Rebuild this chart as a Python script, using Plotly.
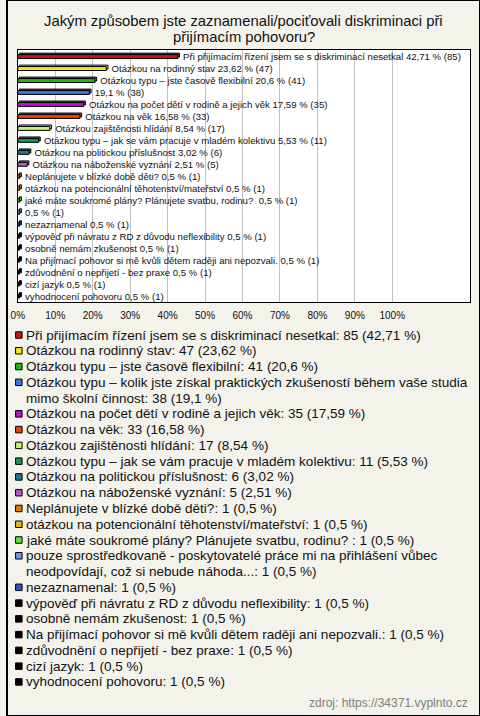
import textwrap
import plotly.graph_objects as go

# ---------------- data ----------------
title_lines = ["Jakým způsobem jste zaznamenali/pociťovali diskriminaci při",
               "přijímacím pohovoru?"]

categories = [
    "Při přijímacím řízení jsem se s diskriminací nesetkal",
    "Otázkou na rodinný stav",
    "Otázkou typu – jste časově flexibilní",
    "Otázkou typu – kolik jste získal praktických zkušeností během vaše studia mimo školní činnost",
    "Otázkou na počet dětí v rodině a jejich věk",
    "Otázkou na věk",
    "Otázkou zajištěnosti hlídání",
    "Otázkou typu – jak se vám pracuje v mladém kolektivu",
    "Otázkou na politickou příslušnost",
    "Otázkou na náboženské vyznání",
    "Neplánujete v blízké době děti?",
    "otázkou na potencionální těhotenství/mateřství",
    "jaké máte soukromé plány? Plánujete svatbu, rodinu? ",
    "pouze sprostředkovaně - poskytovatelé práce mi na přihlášení vůbec neodpovídají, což si nebude náhoda...",
    "nezaznamenal",
    "výpověď při návratu z RD z důvodu neflexibility",
    "osobně nemám zkušenost",
    "Na přijímací pohovor si mě kvůli dětem raději ani nepozvali.",
    "zdůvodnění o nepřijetí - bez praxe",
    "cizí jazyk",
    "vyhodnocení pohovoru",
]

# names shown next to the bars (long ones omitted in the original)
bar_names = [
    "Při přijímacím řízení jsem se s diskriminací nesetkal",
    "Otázkou na rodinný stav",
    "Otázkou typu – jste časově flexibilní",
    "",
    "Otázkou na počet dětí v rodině a jejich věk",
    "Otázkou na věk",
    "Otázkou zajištěnosti hlídání",
    "Otázkou typu – jak se vám pracuje v mladém kolektivu",
    "Otázkou na politickou příslušnost",
    "Otázkou na náboženské vyznání",
    "Neplánujete v blízké době děti?",
    "otázkou na potencionální těhotenství/mateřství",
    "jaké máte soukromé plány? Plánujete svatbu, rodinu? ",
    "",
    "nezaznamenal",
    "výpověď při návratu z RD z důvodu neflexibility",
    "osobně nemám zkušenost",
    "Na přijímací pohovor si mě kvůli dětem raději ani nepozvali.",
    "zdůvodnění o nepřijetí - bez praxe",
    "cizí jazyk",
    "vyhodnocení pohovoru",
]

counts = [85, 47, 41, 38, 35, 33, 17, 11, 6, 5, 1, 1, 1, 1, 1, 1, 1, 1, 1, 1, 1]
percents = [42.71, 23.62, 20.6, 19.1, 17.59, 16.58, 8.54, 5.53, 3.02, 2.51,
            0.5, 0.5, 0.5, 0.5, 0.5, 0.5, 0.5, 0.5, 0.5, 0.5, 0.5]

colors = ["#C0170C", "#F6E614", "#1EB41E", "#4173E6", "#B414C8", "#E6410F",
          "#C8F06E", "#14965F", "#1E7896", "#B45AC3", "#E6780F", "#E6B914",
          "#5AE63C", "#6E96E6", "#2D55C8", "#000000", "#000000", "#000000",
          "#000000", "#000000", "#000000"]

tick_values = [0, 10, 20, 30, 40, 50, 60, 70, 80, 90, 100]
tick_labels = ["0%", "10%", "20%", "30%", "40%", "50%", "60%", "70%", "80%", "90%", "100%"]

source_text = "zdroj: https://34371.vyplnto.cz"

# ---------------- layout constants ----------------
W, H = 480, 716
BG = "#F3F2EB"
FONT = "Liberation Sans, Arial, sans-serif"

def fy(px):
    return 1 - px / H

def fmt(p):
    return f"{p:g}".replace(".", ",")

idx = list(range(len(categories)))
bar_text = ["\u00a0\u00a0" + (f"{n} " if n else "") + f"{fmt(p)} % ({c})"
            for n, p, c in zip(bar_names, percents, counts)]

BAR_W = 0.33
DEPTH_Y = 0.12

fig = go.Figure()

# 3D-ish back face
fig.add_trace(go.Bar(
    y=idx, x=percents, base=0.45, orientation="h",
    width=BAR_W, offset=-BAR_W / 2 - DEPTH_Y,
    marker=dict(color=colors, line=dict(color="#000000", width=1)),
    hoverinfo="skip", showlegend=False,
))
# front face
fig.add_trace(go.Bar(
    y=idx, x=percents, orientation="h",
    width=BAR_W, offset=-BAR_W / 2,
    marker=dict(color=colors, line=dict(color="#000000", width=1)),
    text=bar_text, textposition="outside", cliponaxis=False,
    constraintext="none",
    textfont=dict(family=FONT, size=9.6, color="#111111"),
    hoverinfo="skip", showlegend=False,
))

# ---------------- custom legend below ----------------
LEG_TOP_PX = 335.0
LEG_STEP = 15.77
line_idx = []
leg_lines = []
cur = 0
for name, p, c in zip(categories, percents, counts):
    full = f"{name}: {c} ({fmt(p)} %)"
    lines = textwrap.wrap(full, width=75)
    line_idx.append(cur)
    leg_lines.append(lines)
    cur += len(lines)

fig.add_trace(go.Scatter(
    x=[12] * len(categories), y=line_idx, mode="markers",
    marker=dict(symbol="square", size=6.5, color=colors, line=dict(color="#000000", width=1)),
    xaxis="x2", yaxis="y2", hoverinfo="skip", showlegend=False, cliponaxis=False,
))

annotations = []
for li, lines in zip(line_idx, leg_lines):
    for k, ln in enumerate(lines):
        annotations.append(dict(
            x=19.5 / W, y=li + k, xref="paper", yref="y2", text=ln, showarrow=False,
            xanchor="left", yanchor="middle", borderpad=0, borderwidth=0,
            font=dict(family=FONT, size=13.5, color="#111111"),
        ))

# title lines
for ln, ypx in zip(title_lines, [20.5, 37.0]):
    annotations.append(dict(
        x=0.5, y=fy(ypx), xref="paper", yref="paper", text=ln, showarrow=False,
        xanchor="center", yanchor="middle", borderpad=0, borderwidth=0,
        font=dict(family=FONT, size=14.8, color="#111111"),
    ))

# source
annotations.append(dict(
    x=470 / W, y=fy(703), xref="paper", yref="paper", text=source_text, showarrow=False,
    xanchor="right", yanchor="middle",
    font=dict(family=FONT, size=12, color="#808080"),
))

leg_dom = [0, 0.55]
top_px = H * (1 - leg_dom[1])
y2_range = [(H - LEG_TOP_PX) / LEG_STEP, (top_px - LEG_TOP_PX) / LEG_STEP]

fig.update_layout(
    width=W, height=H,
    margin=dict(l=0, r=0, t=0, b=0, pad=0),
    paper_bgcolor=BG, plot_bgcolor=BG,
    barmode="overlay",
    showlegend=False,
    hovermode=False,
    xaxis=dict(
        domain=[11 / W, 470 / W], range=[0, 120.8],
        tickvals=tick_values, ticktext=tick_labels,
        showgrid=True, gridcolor="#C0C0C0", gridwidth=1,
        zeroline=False, showline=True, linecolor="#000000", linewidth=1, mirror=True,
        ticks="", ticklabelstandoff=4,
        tickfont=dict(family=FONT, size=10, color="#111111"),
        fixedrange=True,
    ),
    yaxis=dict(
        domain=[fy(302), fy(50)], range=[20.5, -0.55],
        showticklabels=False, showgrid=False, zeroline=False,
        showline=True, linecolor="#000000", linewidth=1, mirror=True, ticks="",
        fixedrange=True,
    ),
    xaxis2=dict(domain=[0, 1], range=[0, W], visible=False, anchor="y2", fixedrange=True),
    yaxis2=dict(domain=leg_dom, range=y2_range, visible=False, anchor="x2", fixedrange=True),
    annotations=annotations,
    shapes=[
        dict(type="rect", xref="x domain", yref="y domain", x0=0, x1=1, y0=0, y1=1,
             fillcolor="#FFFFFF", line=dict(width=0), layer="below"),
        dict(type="rect", xref="paper", yref="paper", x0=0, x1=1, y0=0, y1=1,
             line=dict(color="#000000", width=2), fillcolor="rgba(0,0,0,0)", layer="above"),
    ],
)

fig.write_html(
    "out.html",
    config={"displayModeBar": False, "staticPlot": True},
    post_script="document.body.style.margin='0';document.body.style.overflow='hidden';",
)
